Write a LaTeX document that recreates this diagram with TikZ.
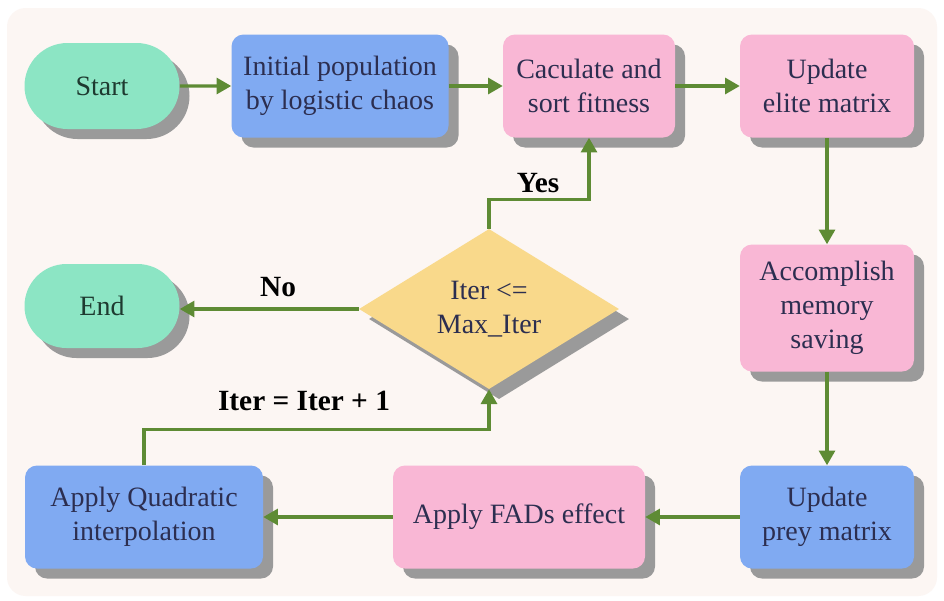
\documentclass[tikz,border=0pt]{standalone}
\usepackage{fontspec}
\setmainfont{Liberation Serif}
\usetikzlibrary{shapes.misc,shapes.geometric,shadows,arrows.meta}

\definecolor{bgcol}{HTML}{FCF6F3}
\definecolor{termgreen}{HTML}{8CE5C4}
\definecolor{stepblue}{HTML}{80AAF2}
\definecolor{steppink}{HTML}{F9B7D5}
\definecolor{decyellow}{HTML}{F9D98B}
\definecolor{shadowgray}{HTML}{9A9A9A}
\definecolor{arrowgreen}{HTML}{5E8B34}
\definecolor{textnavy}{HTML}{2C2E50}
\definecolor{textgreen}{HTML}{1E3A30}

\begin{document}
\begin{tikzpicture}[x=0.75pt,y=-0.75pt,
    boxshadow/.style={drop shadow={shadow xshift=7.5pt,shadow yshift=-7.5pt,fill=shadowgray,opacity=1}},
    boxfont/.style={font=\fontsize{21}{25.5}\selectfont,align=center,inner sep=0pt},
    terminal/.style={rounded rectangle,fill=termgreen,text=textgreen,boxfont,boxshadow,
        minimum width=155*\px,minimum height=86*\px},
    stepbox/.style={rectangle,rounded corners=9pt,text=textnavy,boxfont,boxshadow,minimum height=103*\px},
    decision/.style={diamond,fill=decyellow,text=textnavy,boxfont,boxshadow,
        minimum width=260*\px,minimum height=145*\px},
    flow/.style={draw=arrowgreen,line width=2.3pt,-{Triangle[length=11pt,width=12pt]}},
    answer/.style={font=\fontsize{22}{26}\selectfont\bfseries,text=black}]
    \def\px{0.75pt}
    % background card
    \useasboundingbox (0,0) rectangle (944,600);
    \fill[white] (0,0) rectangle (944,600);
    \fill[bgcol,rounded corners=14pt] (7,8) rectangle (937,596);
    % top row
    \node[terminal] (start) at (102,86) {Start};
    \node[stepbox,fill=stepblue,minimum width=217*\px] (init) at (340,86) {Initial population\\by logistic chaos};
    \node[stepbox,fill=steppink,minimum width=172*\px] (calc) at (589,86) {Caculate and\\sort fitness};
    \node[stepbox,fill=steppink,minimum width=174*\px] (elite) at (827,86) {Update\\elite matrix};
    % right column and bottom row
    \node[stepbox,fill=steppink,minimum width=174*\px,minimum height=127*\px] (memory) at (827,308) {Accomplish\\memory\\saving};
    \node[stepbox,fill=stepblue,minimum width=174*\px] (prey) at (827,517) {Update\\prey matrix};
    \node[stepbox,fill=steppink,minimum width=252*\px] (fads) at (519,517) {Apply FADs effect};
    \node[stepbox,fill=stepblue,minimum width=238*\px] (quad) at (144,517) {Apply Quadratic\\interpolation};
    % loop test and exit
    \node[decision] (test) at (489,309) {Iter \textless=\\Max\_Iter};
    \node[terminal,minimum height=84*\px] (end) at (102,306) {End};
    % connectors
    \draw[flow] (start) -- (init);
    \draw[flow] (init) -- (calc);
    \draw[flow] (calc) -- (elite);
    \draw[flow] (elite) -- (memory);
    \draw[flow] (memory) -- (prey);
    \draw[flow] (prey) -- (fads);
    \draw[flow] (fads) -- (quad);
    \draw[flow] (quad.north) -- ++(0,-36) -| (test.south);
    \draw[flow] (test.north) -- ++(0,-29) -| (calc.south);
    \draw[flow] (test.west) -- (test.west -| end.east);
    % labels
    \node[answer] (yes) at (538,183) {Yes};
    \node[answer] (no) at (278,287) {No};
    \node[answer] (incr) at (304,401) {Iter = Iter + 1};
\end{tikzpicture}
\end{document}
